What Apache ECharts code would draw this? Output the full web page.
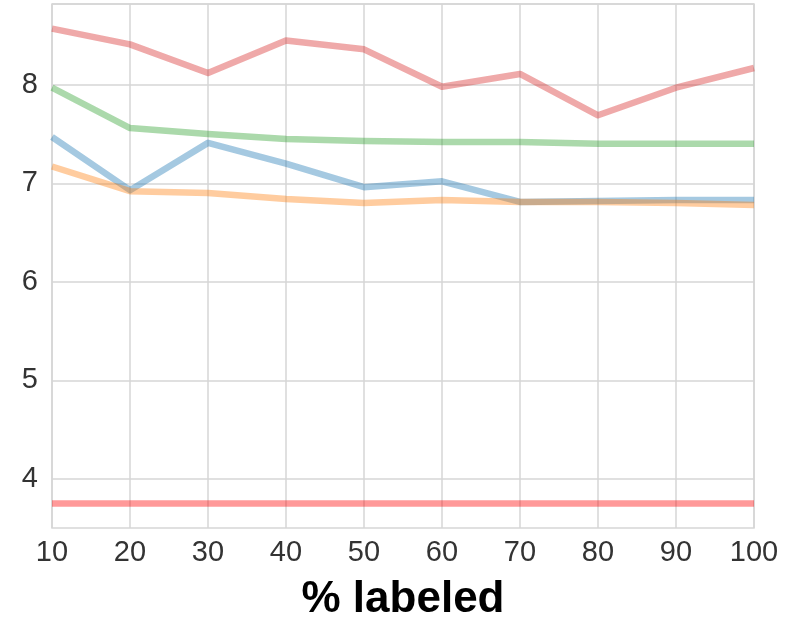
<!DOCTYPE html>
<html>
<head>
<meta charset="utf-8">
<script src="https://cdn.jsdelivr.net/npm/echarts@6/dist/echarts.min.js"></script>
<style>
  html, body { margin: 0; padding: 0; background: #fff; }
  #chart { width: 808px; height: 623px; }
</style>
</head>
<body>
<div id="chart"></div>
<script>
// x positions (% of data labeled)
const pctLabeled = [10, 20, 30, 40, 50, 60, 70, 80, 90, 100];
const yTicks = [4, 5, 6, 7, 8];

// one series per method
const redTop   = [8.57, 8.41, 8.12, 8.45, 8.36, 7.98, 8.11, 7.69, 7.97, 8.17];
const green    = [7.97, 7.56, 7.50, 7.45, 7.43, 7.42, 7.42, 7.40, 7.40, 7.40];
const blue     = [7.47, 6.93, 7.41, 7.20, 6.96, 7.02, 6.81, 6.82, 6.83, 6.83];
const orange   = [7.17, 6.92, 6.90, 6.84, 6.80, 6.83, 6.81, 6.81, 6.80, 6.78];
const baseline = [3.75, 3.75, 3.75, 3.75, 3.75, 3.75, 3.75, 3.75, 3.75, 3.75];

const seriesDefs = [
  { name: 'baseline', values: baseline, color: '#ff0000' },
  { name: 'red',      values: redTop,   color: '#d62728' },
  { name: 'green',    values: green,    color: '#2ca02c' },
  { name: 'blue',     values: blue,     color: '#1f77b4' },
  { name: 'orange',   values: orange,   color: '#ff7f0e' }
];

const chart = echarts.init(document.getElementById('chart'), null, { renderer: 'canvas' });

const gridColor = '#d6d6d6';
const fontFamily = 'Liberation Sans, Arial, sans-serif';
const labelStyle = { color: '#333', fontSize: 29, fontFamily: fontFamily };

chart.setOption({
  animation: false,
  backgroundColor: '#ffffff',
  grid: {
    left: 52, right: 54, top: 4, bottom: 95,
    outerBoundsMode: 'none',
    containLabel: false,
    show: true, borderColor: gridColor, borderWidth: 1.5
  },
  xAxis: {
    type: 'value',
    min: 10, max: 100, interval: 10,
    name: '% labeled',
    nameLocation: 'middle',
    nameGap: 50,
    nameTextStyle: { color: '#000', fontSize: 44, fontWeight: 'bold', fontFamily: fontFamily },
    axisLine: { show: false },
    axisTick: { show: false },
    axisLabel: Object.assign({ margin: 10 }, labelStyle, {
      formatter: v => pctLabeled.includes(v) ? String(v) : ''
    }),
    splitLine: { show: true, lineStyle: { color: gridColor, width: 1.5 } }
  },
  yAxis: {
    type: 'value',
    min: 3.5, max: 8.82,
    interval: 0.5,
    axisLine: { show: false },
    axisTick: { show: false },
    axisLabel: Object.assign({ margin: 14 }, labelStyle, {
      formatter: v => yTicks.includes(v) ? String(v) : '',
      showMinLabel: false, showMaxLabel: false
    }),
    // ticks run 3.5, 4, 4.5, ... : only whole numbers get a visible line
    splitLine: { show: true, lineStyle: { color: ['rgba(0,0,0,0)', gridColor], width: 1.5 } }
  },
  series: seriesDefs.map(s => ({
    name: s.name,
    type: 'line',
    data: pctLabeled.map((x, i) => [x, s.values[i]]),
    showSymbol: false,
    symbol: 'none',
    lineStyle: { color: s.color, width: 6.5, opacity: 0.4, join: 'round', cap: 'butt' }
  }))
});
</script>
</body>
</html>
